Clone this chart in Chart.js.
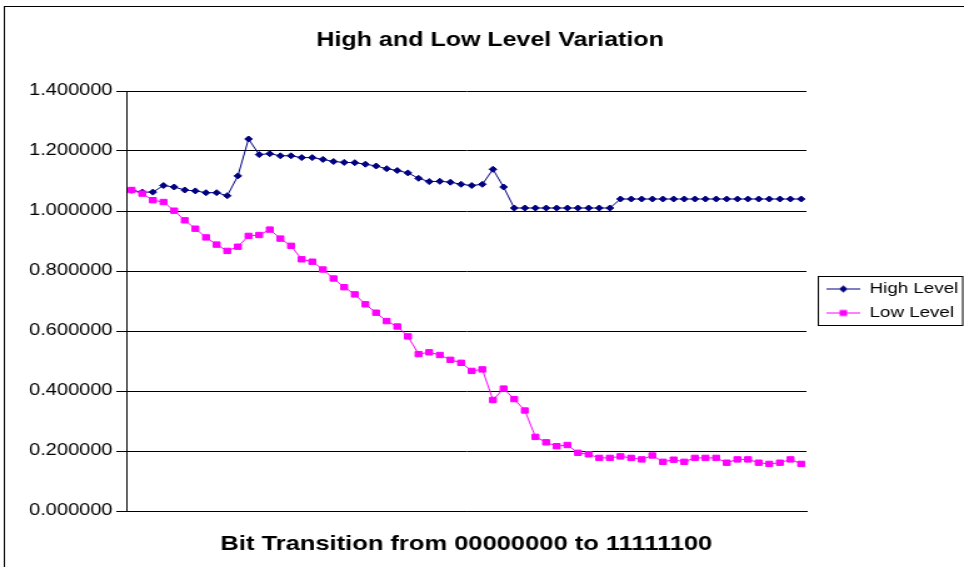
<!DOCTYPE html>
<html>
<head>
<meta charset="utf-8">
<title>High and Low Level Variation</title>
<script src="https://cdn.jsdelivr.net/npm/chart.js@4.4.1/dist/chart.umd.min.js"></script>
<style>
  html, body { margin: 0; padding: 0; background: #fff; }
  #level_chart { display: block; }
</style>
</head>
<body>
<!-- drawn 771 wide and shown stretched to 964, like the pasted Excel picture -->
<canvas id="level_chart" width="771" height="567" style="width: 964px; height: 567px;"></canvas>
<script>
// measured levels, one value per bit step
const high_level = [
    1.069, 1.063, 1.063, 1.085, 1.080, 1.070, 1.067, 1.061, 1.061, 1.051,
    1.117, 1.240, 1.188, 1.191, 1.184, 1.184, 1.178, 1.178, 1.172, 1.165,
    1.162, 1.161, 1.156, 1.150, 1.141, 1.135, 1.127, 1.109, 1.098, 1.099,
    1.096, 1.089, 1.085, 1.089, 1.139, 1.080, 1.010, 1.010, 1.010, 1.010,
    1.010, 1.010, 1.010, 1.010, 1.010, 1.010, 1.040, 1.040, 1.040, 1.040,
    1.040, 1.040, 1.040, 1.040, 1.040, 1.040, 1.040, 1.040, 1.040, 1.040,
    1.040, 1.040, 1.040, 1.040
]
const low_level = [
    1.070, 1.058, 1.036, 1.030, 1.001, 0.969, 0.941, 0.912, 0.888, 0.867,
    0.881, 0.917, 0.920, 0.938, 0.908, 0.884, 0.839, 0.831, 0.805, 0.775,
    0.746, 0.722, 0.689, 0.661, 0.633, 0.615, 0.582, 0.523, 0.529, 0.520,
    0.504, 0.494, 0.467, 0.472, 0.370, 0.408, 0.373, 0.335, 0.247, 0.229,
    0.216, 0.220, 0.194, 0.189, 0.177, 0.177, 0.182, 0.177, 0.172, 0.185,
    0.164, 0.171, 0.164, 0.177, 0.177, 0.177, 0.161, 0.172, 0.172, 0.161,
    0.157, 0.161, 0.172, 0.157
]
const series_names = ['High Level', 'Low Level']
const y_ticks = { min: 0, max: 1.4, step: 0.2 }

// bit steps have no printed labels, just one slot per reading
const steps = high_level.map((v, i) => i + 1)

const level_chart = document.querySelector('#level_chart')
const font_face = '"Liberation Sans", Arial, sans-serif'
const navy = '#000080'
const magenta = '#FF00FF'

// little line + marker picture used as the legend symbol
function legend_icon(color, shape) {
    const c = document.createElement('canvas')
    c.width = 34
    c.height = 11
    const g = c.getContext('2d')
    g.strokeStyle = color
    g.fillStyle = color
    g.lineWidth = 1
    g.beginPath()
    g.moveTo(7, 5.5)
    g.lineTo(34, 5.5)
    g.stroke()
    if (shape == 'diamond') {
        g.beginPath()
        g.moveTo(20.5, 2)
        g.lineTo(24, 5.5)
        g.lineTo(20.5, 9)
        g.lineTo(17, 5.5)
        g.closePath()
        g.fill()
    } else {
        g.fillRect(17.5, 2.5, 6, 6)
    }
    return c
}
const legend_icons = [legend_icon(navy, 'diamond'), legend_icon(magenta, 'square')]

// outer frame of the chart
const chart_frame = {
    id: 'chart_frame',
    beforeDraw(chart) {
        const ctx = chart.ctx
        ctx.save()
        ctx.fillStyle = '#fff'
        ctx.fillRect(0, 0, chart.width, chart.height)
        ctx.strokeStyle = '#000'
        ctx.lineWidth = 1
        ctx.strokeRect(3.5, 6.5, chart.width, chart.height)
        ctx.restore()
    }
}

// box around the legend entries
const legend_frame = {
    id: 'legend_frame',
    afterDraw(chart) {
        const boxes = chart.legend.legendHitBoxes
        if (!boxes || !boxes.length) return
        const first = boxes[0]
        const last = boxes[boxes.length - 1]
        const x = Math.round(first.left) + 0.5
        const y = Math.round(first.top) - 5.5
        const ctx = chart.ctx
        ctx.save()
        ctx.strokeStyle = '#000'
        ctx.lineWidth = 1
        ctx.strokeRect(x, y, chart.width - 1 - x, Math.round(last.top + last.height - first.top) + 10)
        ctx.restore()
    }
}

const data_levels = {
    labels: steps,
    datasets: [{
        label: series_names[0],
        data: high_level,
        borderColor: navy,
        backgroundColor: navy,
        borderWidth: 1,
        pointStyle: 'rectRot',
        pointRadius: 3,
        pointBorderWidth: 1,
        pointBorderColor: navy,
        pointBackgroundColor: navy,
        order: 1
    }, {
        label: series_names[1],
        data: low_level,
        borderColor: magenta,
        backgroundColor: magenta,
        borderWidth: 1,
        pointStyle: 'rect',
        pointRadius: 3.8,
        pointBorderWidth: 1,
        pointBorderColor: magenta,
        pointBackgroundColor: magenta,
        order: 0
    }]
}

const options_levels = {
    responsive: false,
    animation: false,
    layout: {
        padding: { left: 13, right: 0, top: 0, bottom: 0 }
    },
    plugins: {
        title: {
            display: true,
            text: 'High and Low Level Variation',
            color: '#000',
            font: { family: font_face, size: 20, weight: 'bold' },
            padding: { top: 28, bottom: 39 }
        },
        legend: {
            position: 'right',
            fullSize: false,
            maxWidth: 126,
            labels: {
                color: '#000',
                font: { family: font_face, size: 15 },
                padding: 9,
                usePointStyle: true,
                pointStyleWidth: 34,
                generateLabels: chart => chart.data.datasets.map((ds, i) => ({
                    text: ds.label,
                    pointStyle: legend_icons[i],
                    fillStyle: ds.borderColor,
                    strokeStyle: ds.borderColor,
                    lineWidth: 0,
                    hidden: false,
                    datasetIndex: i
                }))
            }
        },
        tooltip: { enabled: false }
    },
    elements: {
        line: { tension: 0 }
    },
    scales: {
        x: {
            offset: true,
            grid: { display: false },
            border: { display: true, color: '#000', width: 1 },
            ticks: { display: false },
            title: {
                display: true,
                text: 'Bit Transition from 00000000 to 11111100',
                color: '#000',
                font: { family: font_face, size: 20.4, weight: 'bold' },
                padding: { top: 22, bottom: 10 }
            },
            afterFit: scale => { scale.height = 56 }
        },
        y: {
            min: y_ticks.min,
            max: y_ticks.max,
            ticks: {
                stepSize: y_ticks.step,
                color: '#000',
                padding: 3,
                font: { family: font_face, size: 16 },
                callback: value => value.toFixed(6)
            },
            grid: { color: '#000', tickLength: 8 },
            border: { color: '#000' },
            afterFit: scale => { scale.width = 88 }
        }
    }
}

new Chart(level_chart, {
    type: 'line',
    data: data_levels,
    options: options_levels,
    plugins: [chart_frame, legend_frame]
})
</script>
</body>
</html>
